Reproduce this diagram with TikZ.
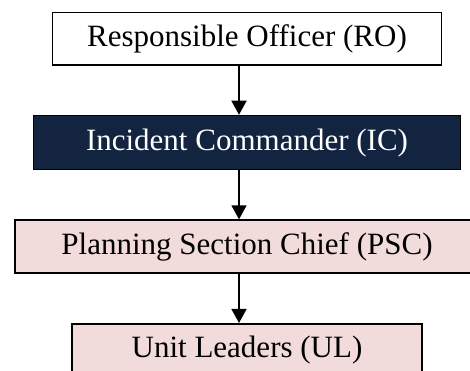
\documentclass[tikz,border=0pt]{standalone}
\usepackage{fontspec}
\setmainfont{Liberation Serif}
\usepackage{xcolor}
\usetikzlibrary{arrows.meta,positioning}
\definecolor{NavyIC}{RGB}{18,36,64}
\definecolor{SoftPink}{RGB}{242,220,219}

\begin{document}
\begin{tikzpicture}[node distance=49pt,
  every node/.style={font=\fontsize{31}{36}\selectfont},
  rolebox/.style={draw, line width=1.6pt, minimum height=52.5pt},
  down/.style={-{Triangle[length=14pt,width=15pt]}, line width=1.5pt}]
\clip (0,0) rectangle (470pt,-371pt);
\node[rolebox, fill=white, minimum width=389pt] (ro) at (247pt,-38.7pt) {Responsible Officer (RO)};
\node[rolebox, fill=NavyIC, text=white, below=of ro, minimum width=427pt, minimum height=54pt] (ic) {Incident Commander (IC)};
\node[rolebox, fill=SoftPink, below=of ic, minimum width=464pt, minimum height=53pt] (psc) {Planning Section Chief (PSC)};
\node[rolebox, fill=SoftPink, below=of psc, minimum width=350.5pt] (ul) {Unit Leaders (UL)};

\draw[down] ([xshift=-8pt]ro.south) -- ([xshift=-8pt]ic.north);
\draw[down] ([xshift=-8pt]ic.south) -- ([xshift=-8pt]psc.north);
\draw[down] ([xshift=-8pt]psc.south) -- ([xshift=-8pt]ul.north);
\end{tikzpicture}
\end{document}
